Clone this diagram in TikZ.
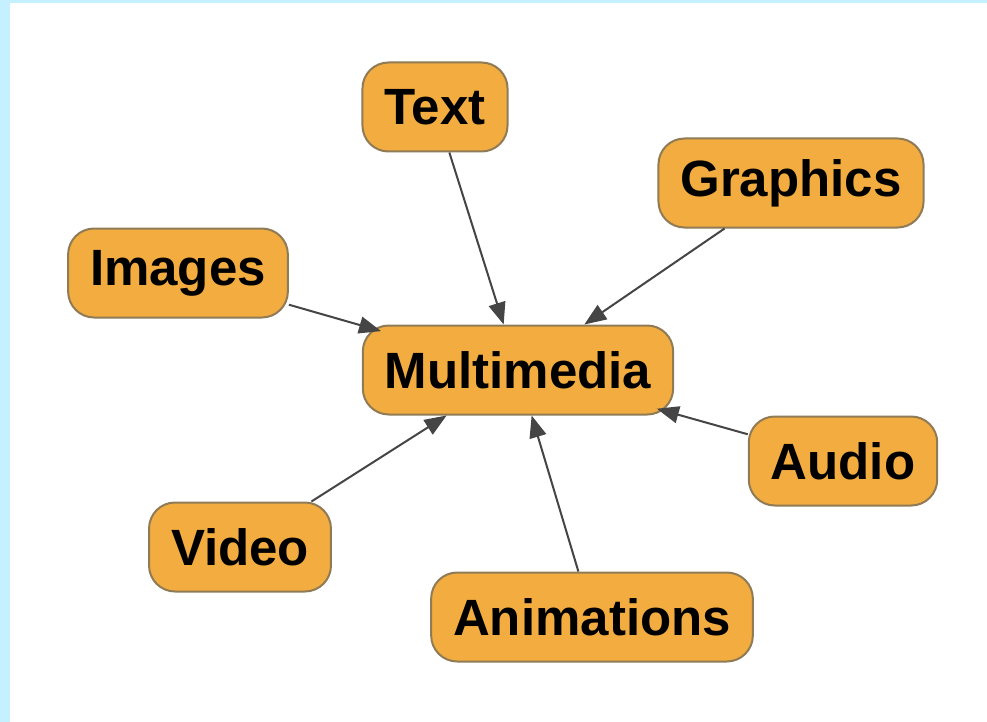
\documentclass[tikz,border=0pt]{standalone}
\usepackage{fontspec}
\setmainfont{Liberation Sans}
\usetikzlibrary{arrows.meta}
\definecolor{boxfill}{HTML}{F2AC3F}
\definecolor{boxline}{HTML}{8F7B55}
\definecolor{arrowgray}{HTML}{454545}
\definecolor{sidebar}{HTML}{C4F0FF}
\tikzset{
	topic/.style={draw=boxline, line width=2pt, fill=boxfill, rounded corners=26pt,
		minimum height=89pt, inner xsep=22pt, font=\fontsize{51}{60}\selectfont\bfseries},
	feed/.style={draw=arrowgray, line width=2pt, -{Triangle[length=22pt,width=17pt]}}
}
\begin{document}
\begin{tikzpicture}[x=1pt,y=-1pt]
			\fill[white] (0,0) rectangle (987,722);
			\fill[sidebar] (0,0) rectangle (10,722); \fill[sidebar] (0,0) rectangle (987,3);
			
			\node[topic] (mm) at (518,370) {Multimedia};
			
			\node[topic] (text) at (435,107) {Text};
			\node[topic] (graphics) at (791,183) {Graphics};
			\node[topic] (images) at (178,273) {Images};
			\node[topic] (audio) at (843,461) {Audio};
			\node[topic] (video) at (240,547) {Video};
			\node[topic] (anim) at (592,617) {Animations};
			
			\foreach \src in {text,graphics,video,anim}
				\draw[feed] (\src) -- (mm);
			% these two meet the rounded corners
			\draw[feed, shorten >=-20pt] (images) -- (mm);
			\draw[feed, shorten >=-18pt] (audio) -- (mm);
			\end{tikzpicture}
\end{document}
